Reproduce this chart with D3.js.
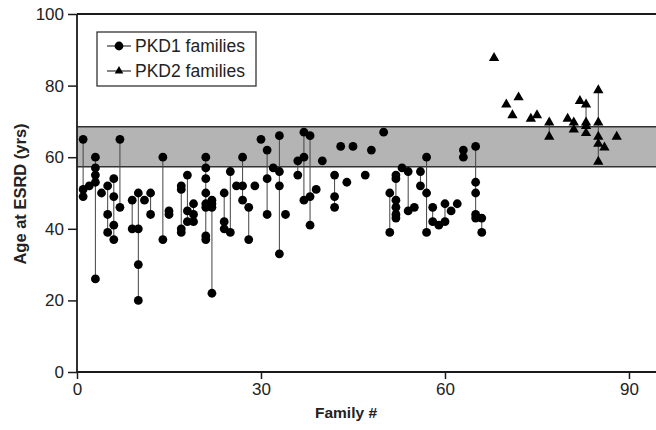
<!DOCTYPE html>
<html>
<head>
<meta charset="utf-8">
<script src="https://cdn.jsdelivr.net/npm/d3@7"></script>
<style>
  body { margin: 0; background: #fff; }
  svg { display: block; font-family: "Liberation Sans", Arial, sans-serif; }
</style>
</head>
<body>
<div id="chart"></div>
<script>
// PKD1 families: family number and age at ESRD, one entry per patient
const pkd1Family = [
  1,1,1, 2, 3,3,3,3,3, 4, 5,5,5, 6,6,6,6, 7,7, 9,9, 10,10,10,10, 11, 12,12,
  14,14, 15,15, 17,17,17,17, 18,18,18, 19,19,19,
  21,21,21,21,21,21,21,21, 22,22,22,22, 24,24,24, 25,25, 26, 27,27,27, 28,28, 29,
  30, 31,31,31, 32, 33,33,33,33, 34, 36,36, 37,37,37, 38,38,38, 39, 40,
  42,42,42, 43, 44, 45, 47, 48, 50, 51,51, 52,52,52,52,52,52, 53, 54,54, 55,
  56,56, 57,57,57, 58,58, 59, 60,60, 61, 62, 63,63, 65,65,65,65,65, 66,66
];
const pkd1Age = [
  65,51,49, 52, 60,57,55,53,26, 50, 52,44,39, 54,49,41,37, 65,46, 48,40, 50,40,30,20, 48, 50,44,
  60,37, 45,44, 52,51,40,39, 55,45,42, 47,44,42,
  60,57,54,50,47,46,38,37, 48,47,46,22, 50,42,40, 56,39, 52, 60,52,48, 46,37, 52,
  65, 62,54,44, 57, 66,56,52,33, 44, 59,55, 67,60,48, 66,49,41, 51, 59,
  55,49,46, 63, 53, 63, 55, 62, 67, 50,39, 55,54,48,46,44,43, 57, 56,45, 46,
  56,52, 60,50,39, 46,42, 41, 47,42, 45, 47, 62,60, 63,53,50,44,43, 43,39
];

// PKD2 families
const pkd2Family = [68, 70, 71, 72, 74, 75, 77,77, 80, 81,81, 82, 83,83,83,83, 85,85,85,85,85, 86, 88];
const pkd2Age    = [88, 75, 72, 77, 71, 72, 70,66, 71, 70,68, 76, 75,70,69,67, 79,70,66,64,59, 63, 66];

// shaded reference band (yrs)
const bandRange = [57.3, 68.5];

const xTicks = [0, 30, 60, 90];
const yTicks = [0, 20, 40, 60, 80, 100];
const legendLabels = ["PKD1 families", "PKD2 families"];

const width = 656, height = 430;
const margin = {left: 77, top: 14, bottom: 58};

const x = d3.scaleLinear().domain([0, 95]).range([margin.left, margin.left + 95 * 6.133]);
const y = d3.scaleLinear().domain([0, 100]).range([height - margin.bottom, margin.top]);

const svg = d3.select('#chart').append('svg')
  .attr('width', width)
  .attr('height', height);

const ink = '#1a1a1a';

// band
svg.append('rect')
  .attr('x', x(0))
  .attr('y', y(bandRange[1]))
  .attr('width', x(95) - x(0))
  .attr('height', y(bandRange[0]) - y(bandRange[1]))
  .attr('fill', '#b4b4b4');
svg.selectAll('.band-edge').data(bandRange).enter().append('line')
  .attr('class', 'band-edge')
  .attr('x1', x(0)).attr('x2', x(95))
  .attr('y1', d => y(d)).attr('y2', d => y(d))
  .attr('stroke', '#333').attr('stroke-width', 1.5);

// top frame line
svg.append('line')
  .attr('x1', x(0)).attr('x2', x(95))
  .attr('y1', y(100)).attr('y2', y(100))
  .attr('stroke', ink).attr('stroke-width', 1.8);

function toRows(fams, ages){
  return fams.map((f, i) => ({family: f, age: ages[i]}));
}
const pkd1 = toRows(pkd1Family, pkd1Age);
const pkd2 = toRows(pkd2Family, pkd2Age);

// vertical connectors inside each family
function drawRanges(rows, cls){
  const groups = d3.rollups(rows, v => d3.extent(v, d => d.age), d => d.family)
    .filter(g => g[1][0] !== g[1][1]);
  svg.selectAll('.' + cls).data(groups).enter().append('line')
    .attr('class', cls)
    .attr('x1', d => x(d[0])).attr('x2', d => x(d[0]))
    .attr('y1', d => y(d[1][0])).attr('y2', d => y(d[1][1]))
    .attr('stroke', '#444').attr('stroke-width', 1);
}
drawRanges(pkd1, 'r1');
drawRanges(pkd2, 'r2');

const tri = d3.symbol().type(d3.symbolTriangle).size(46);

svg.selectAll('.p1').data(pkd1).enter().append('circle')
  .attr('class', 'p1')
  .attr('cx', d => x(d.family))
  .attr('cy', d => y(d.age))
  .attr('r', 4.4)
  .attr('fill', '#000');

svg.selectAll('.p2').data(pkd2).enter().append('path')
  .attr('class', 'p2')
  .attr('d', tri)
  .attr('transform', d => `translate(${x(d.family)},${y(d.age) + 1})`)
  .attr('fill', '#000');

// axes
const yAxis = svg.append('g')
  .attr('transform', `translate(${x(0)},0)`)
  .call(d3.axisLeft(y).tickValues(yTicks).tickSize(9).tickPadding(4));
const xAxis = svg.append('g')
  .attr('transform', `translate(0,${y(0)})`)
  .call(d3.axisBottom(x).tickValues(xTicks).tickSize(7).tickPadding(4));

[xAxis, yAxis].forEach(g => {
  g.select('.domain').attr('stroke', ink).attr('stroke-width', 1.8);
  g.selectAll('.tick line').attr('stroke', ink).attr('stroke-width', 1.5);
  g.selectAll('.tick text')
    .attr('fill', '#222')
    .style('font-size', '17px')
    .style('font-family', '"Liberation Sans", Arial, sans-serif');
});
// x domain in d3 draws an outer tick, remove it by redrawing a plain path
xAxis.select('.domain').attr('d', `M${x(0)},0H${x(95)}`);
yAxis.select('.domain').attr('d', `M0,${y(0)}V${y(100)}`);

// axis titles
svg.append('text')
  .attr('x', 346).attr('y', 418)
  .attr('text-anchor', 'middle')
  .attr('font-weight', 'bold')
  .attr('font-size', 15.5)
  .attr('fill', '#222')
  .text('Family #');

svg.append('text')
  .attr('transform', `translate(26,${(y(0) + y(100)) / 2 + 1}) rotate(-90)`)
  .attr('text-anchor', 'middle')
  .attr('font-weight', 'bold')
  .attr('font-size', 16.5)
  .attr('fill', '#222')
  .text('Age at ESRD (yrs)');

// legend
const legend = svg.append('g');
legend.append('rect')
  .attr('x', 97).attr('y', 32)
  .attr('width', 159).attr('height', 54)
  .attr('fill', '#fff')
  .attr('stroke', '#333').attr('stroke-width', 1.3);

const rows = legend.selectAll('.lg').data(legendLabels).enter().append('g')
  .attr('class', 'lg')
  .attr('transform', (d, i) => `translate(0,${46 + i * 25})`);
rows.append('line')
  .attr('x1', 107).attr('x2', 131)
  .attr('stroke', '#333').attr('stroke-width', 1.2);
rows.filter((d, i) => i === 0).append('circle')
  .attr('cx', 119).attr('r', 4.4).attr('fill', '#000');
rows.filter((d, i) => i === 1).append('path')
  .attr('d', d3.symbol().type(d3.symbolTriangle).size(32))
  .attr('transform', 'translate(119,0)')
  .attr('fill', '#000');
rows.append('text')
  .attr('x', 135).attr('y', 6)
  .attr('font-size', 17.5)
  .attr('fill', '#222')
  .text(d => d);
</script>
</body>
</html>
